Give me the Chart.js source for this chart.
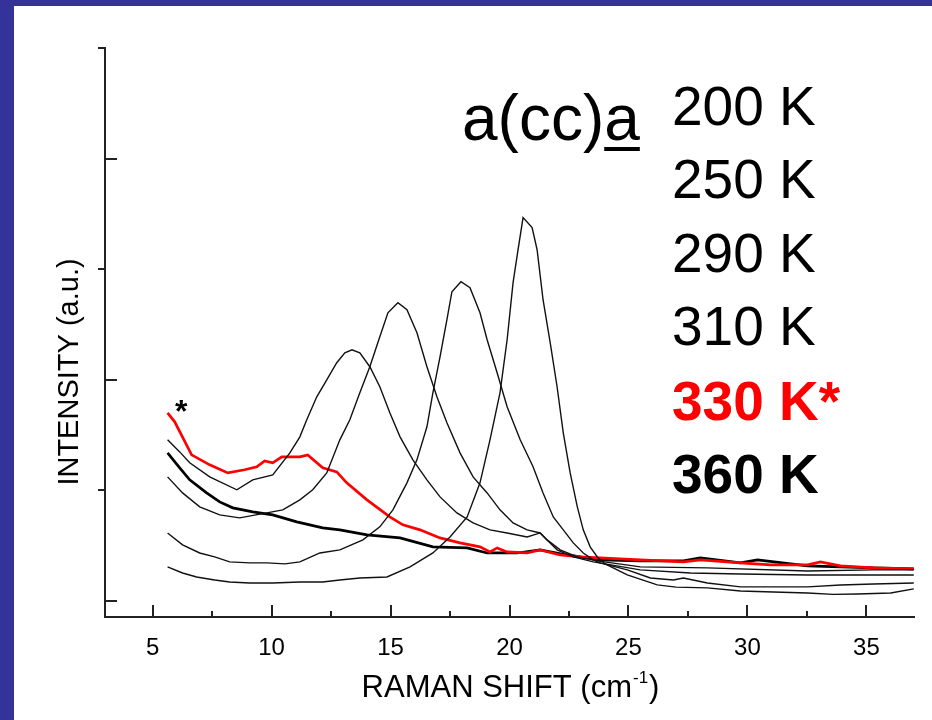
<!DOCTYPE html>
<html>
<head>
<meta charset="utf-8">
<script src="https://cdn.jsdelivr.net/npm/chart.js@4.4.0/dist/chart.umd.min.js"></script>
<style>
html,body{margin:0;padding:0;background:#333399;}
#c{position:absolute;left:0;top:0;}
</style>
</head>
<body>
<canvas id="c" width="932" height="720"></canvas>
<script>
// ---- axis ticks ----
const xTickValues = [5, 10, 15, 20, 25, 30, 35];
const xMinorTicks = [7.5, 12.5, 17.5, 22.5, 27.5, 32.5];
const yMajorTicks = [0, 2, 4];
const yMinorTicks = [1, 3, 5];

// ---- legend / labels ----
const seriesLabels = ['200 K', '250 K', '290 K', '310 K', '330 K*', '360 K'];
const geometryLabel = 'a(cc)a';
const xTitle = 'RAMAN SHIFT (cm';
const xTitleSup = '-1';
const yTitle = 'INTENSITY (a.u.)';

// ---- series (Raman shift in cm^-1, intensity in a.u.) ----
const x200 = [5.63,6.26,6.85,7.61,8.24,9.08,10.05,11.19,12.15,12.87,13.71,14.85,15.82,16.78,17.50,18.22,18.76,19.18,19.60,19.90,20.15,20.36,20.57,20.95,21.16,21.41,21.71,22.00,22.26,22.55,22.85,23.10,23.39,23.69,24.02,24.95,26.21,27.00,28.32,29.71,31.09,32.53,33.60,34.63,36.02,36.99];
const y200 = [0.308,0.253,0.217,0.190,0.172,0.163,0.163,0.172,0.172,0.190,0.208,0.217,0.308,0.434,0.579,0.760,1.068,1.457,1.882,2.362,2.878,3.176,3.466,3.376,3.176,2.724,2.335,1.937,1.520,1.158,0.851,0.643,0.489,0.398,0.335,0.235,0.145,0.125,0.118,0.090,0.081,0.072,0.060,0.063,0.072,0.109];

const x250 = [5.63,6.26,6.98,7.61,8.24,9.08,9.80,10.56,11.19,12.03,12.87,13.84,14.55,15.10,15.69,16.11,16.53,16.78,17.08,17.37,17.58,17.96,18.34,18.76,19.06,19.48,19.90,20.45,20.99,21.41,21.84,22.26,22.68,23.10,23.52,23.81,24.95,25.92,26.89,27.31,28.32,29.71,31.09,32.53,33.91,35.30,36.99];
const y250 = [0.615,0.507,0.434,0.398,0.353,0.344,0.344,0.335,0.353,0.434,0.462,0.552,0.670,0.824,1.068,1.276,1.575,1.882,2.208,2.543,2.796,2.887,2.833,2.606,2.362,2.063,1.756,1.457,1.213,0.977,0.760,0.643,0.525,0.434,0.371,0.344,0.281,0.208,0.190,0.208,0.163,0.127,0.127,0.127,0.145,0.154,0.163];

const x290 = [5.63,6.26,6.98,7.82,8.66,9.80,10.47,11.19,11.73,12.32,12.87,13.29,13.71,14.13,14.55,14.89,15.31,15.69,16.11,16.53,16.95,17.37,17.92,18.47,19.06,19.60,20.15,20.74,21.29,21.58,22.00,22.68,23.52,25.50,27.60,29.71,32.53,35.30,36.99];
const y290 = [1.122,0.977,0.851,0.778,0.751,0.796,0.824,0.914,1.005,1.158,1.457,1.638,1.882,2.118,2.389,2.606,2.697,2.633,2.425,2.118,1.846,1.611,1.339,1.122,0.977,0.824,0.706,0.643,0.615,0.552,0.462,0.398,0.353,0.281,0.253,0.244,0.235,0.235,0.235];

const x310 = [5.63,6.14,6.56,7.40,8.54,9.21,10.05,10.77,11.19,11.48,11.90,12.32,12.74,13.08,13.38,13.71,14.13,14.55,14.97,15.40,15.94,16.53,17.08,17.79,18.47,19.18,19.90,20.74,21.29,21.58,22.13,22.85,23.69,25.50,28.32,32.53,35.30,36.99];
const y310 = [1.457,1.348,1.249,1.122,1.005,1.095,1.140,1.339,1.484,1.638,1.846,2.000,2.154,2.244,2.271,2.244,2.118,1.937,1.701,1.484,1.276,1.095,0.941,0.796,0.706,0.643,0.615,0.579,0.615,0.552,0.462,0.398,0.362,0.308,0.299,0.271,0.281,0.281];

const x330 = [5.63,5.93,6.64,7.40,8.16,8.87,9.38,9.71,10.05,10.43,11.19,11.52,12.15,12.74,13.16,14.01,14.97,15.52,16.24,17.08,17.92,18.76,19.18,19.48,19.90,20.74,21.29,22.13,22.97,23.81,25.50,27.31,28.02,29.71,30.97,32.53,33.07,33.91,35.30,36.99];
const y330 = [1.701,1.620,1.321,1.231,1.158,1.186,1.213,1.267,1.249,1.303,1.303,1.321,1.204,1.167,1.068,0.914,0.760,0.688,0.643,0.570,0.525,0.489,0.443,0.480,0.443,0.434,0.462,0.416,0.398,0.389,0.371,0.353,0.371,0.344,0.326,0.326,0.353,0.317,0.299,0.290];

const x360 = [5.63,6.14,6.56,7.27,7.82,8.37,9.21,10.05,11.06,12.15,12.87,14.01,15.40,16.78,18.22,19.06,20.32,21.29,22.42,23.81,25.50,27.31,28.02,29.71,30.42,32.53,35.30,36.99];
const y360 = [1.339,1.204,1.095,0.977,0.896,0.842,0.805,0.778,0.715,0.661,0.643,0.597,0.570,0.489,0.480,0.434,0.434,0.462,0.416,0.371,0.362,0.362,0.389,0.344,0.371,0.317,0.299,0.290];

const xMin = 3, xMax = 37, yMin = -0.145, yMax = 5;

function pts(xs, ys) { return xs.map((x, i) => ({ x: x, y: ys[i] })); }

const thin = 1.4, bold = 2.7;
const datasets = [
  { label: seriesLabels[0], data: pts(x200, y200), borderColor: '#111', borderWidth: thin },
  { label: seriesLabels[1], data: pts(x250, y250), borderColor: '#111', borderWidth: thin },
  { label: seriesLabels[2], data: pts(x290, y290), borderColor: '#111', borderWidth: thin },
  { label: seriesLabels[3], data: pts(x310, y310), borderColor: '#111', borderWidth: thin },
  { label: seriesLabels[4], data: pts(x330, y330), borderColor: '#ff0000', borderWidth: bold },
  { label: seriesLabels[5], data: pts(x360, y360), borderColor: '#000', borderWidth: bold }
].map(d => Object.assign(d, { showLine: true, pointRadius: 0, tension: 0, fill: false }));

const FONT = '"Liberation Sans", Arial, sans-serif';

const bgPlugin = {
  id: 'bg',
  beforeDraw(chart) {
    const ctx = chart.ctx;
    ctx.save();
    ctx.fillStyle = '#333399';
    ctx.fillRect(0, 0, chart.width, chart.height);
    ctx.fillStyle = '#ffffff';
    ctx.fillRect(14, 6, chart.width - 14, chart.height - 6);
    ctx.restore();
  }
};

const decoPlugin = {
  id: 'deco',
  afterDraw(chart) {
    const ctx = chart.ctx;
    const xs = chart.scales.x, ys = chart.scales.y;
    const ca = chart.chartArea;
    ctx.save();
    // ticks
    ctx.strokeStyle = '#222';
    ctx.lineWidth = 2;
    ctx.beginPath();
    xTickValues.forEach(v => { const p = Math.round(xs.getPixelForValue(v)); ctx.moveTo(p, ca.bottom); ctx.lineTo(p, ca.bottom - 12); });
    xMinorTicks.forEach(v => { const p = Math.round(xs.getPixelForValue(v)); ctx.moveTo(p, ca.bottom); ctx.lineTo(p, ca.bottom - 6); });
    yMajorTicks.forEach(v => { const p = Math.round(ys.getPixelForValue(v)); ctx.moveTo(ca.left, p); ctx.lineTo(ca.left + 12, p); });
    yMinorTicks.forEach(v => { const p = Math.round(ys.getPixelForValue(v)); ctx.moveTo(ca.left, p); ctx.lineTo(ca.left - 7, p); });
    ctx.stroke();

    // legend text
    ctx.textBaseline = 'alphabetic';
    ctx.textAlign = 'left';
    const baselines = [125, 198, 272, 345, 420, 493];
    seriesLabels.forEach((t, i) => {
      const isBold = i >= 4;
      ctx.font = (isBold ? 'bold ' : '') + '55px ' + FONT;
      ctx.fillStyle = i === 4 ? '#ff0000' : '#000';
      ctx.fillText(t, 672, baselines[i]);
    });

    // geometry label with underlined last letter
    ctx.font = '64px ' + FONT;
    ctx.fillStyle = '#000';
    ctx.fillText(geometryLabel, 462, 140);
    const wAll = ctx.measureText(geometryLabel).width;
    const wLast = ctx.measureText(geometryLabel.slice(-1)).width;
    ctx.fillRect(462 + wAll - wLast, 147, wLast, 4);

    // asterisk marking 330 K curve
    ctx.font = 'bold 32px ' + FONT;
    ctx.textAlign = 'center';
    ctx.fillText('*', xs.getPixelForValue(6.2), 422);

    // x title with superscript
    ctx.textAlign = 'left';
    const f1 = '31px ' + FONT, f2 = '17px ' + FONT;
    ctx.font = f1; const w1 = ctx.measureText(xTitle).width; const w3 = ctx.measureText(')').width;
    ctx.font = f2; const w2 = ctx.measureText(xTitleSup).width;
    const cx = (ca.left + ca.right) / 2;
    let x0 = cx - (w1 + w2 + w3) / 2;
    ctx.font = f1; ctx.fillText(xTitle, x0, 697);
    ctx.font = f2; ctx.fillText(xTitleSup, x0 + w1 + 1, 683);
    ctx.font = f1; ctx.fillText(')', x0 + w1 + w2 + 2, 697);

    // y title
    ctx.translate(78, 372);
    ctx.rotate(-Math.PI / 2);
    ctx.textAlign = 'center';
    ctx.font = '29px ' + FONT;
    ctx.fillText(yTitle, 0, 0);
    ctx.restore();
  }
};

new Chart(document.getElementById('c'), {
  type: 'scatter',
  data: { datasets: datasets },
  plugins: [bgPlugin, decoPlugin],
  options: {
    responsive: false,
    animation: false,
    devicePixelRatio: 1,
    layout: { padding: { left: 105, right: 18, top: 48, bottom: 0 } },
    plugins: { legend: { display: false }, tooltip: { enabled: false } },
    scales: {
      x: {
        type: 'linear', min: xMin, max: xMax,
        afterBuildTicks: s => { s.ticks = xTickValues.map(v => ({ value: v })); },
        afterFit: s => { s.height = 103; },
        grid: { display: false },
        border: { display: true, color: '#222', width: 2 },
        ticks: { color: '#000', padding: 9, font: { family: FONT, size: 24 }, maxRotation: 0, autoSkip: false }
      },
      y: {
        type: 'linear', min: yMin, max: yMax,
        afterBuildTicks: s => { s.ticks = yMajorTicks.concat(yMinorTicks).sort().map(v => ({ value: v })); },
        afterFit: s => { s.width = 0; },
        grid: { display: false },
        border: { display: true, color: '#222', width: 2 },
        ticks: { display: false }
      }
    }
  }
});
</script>
</body>
</html>
